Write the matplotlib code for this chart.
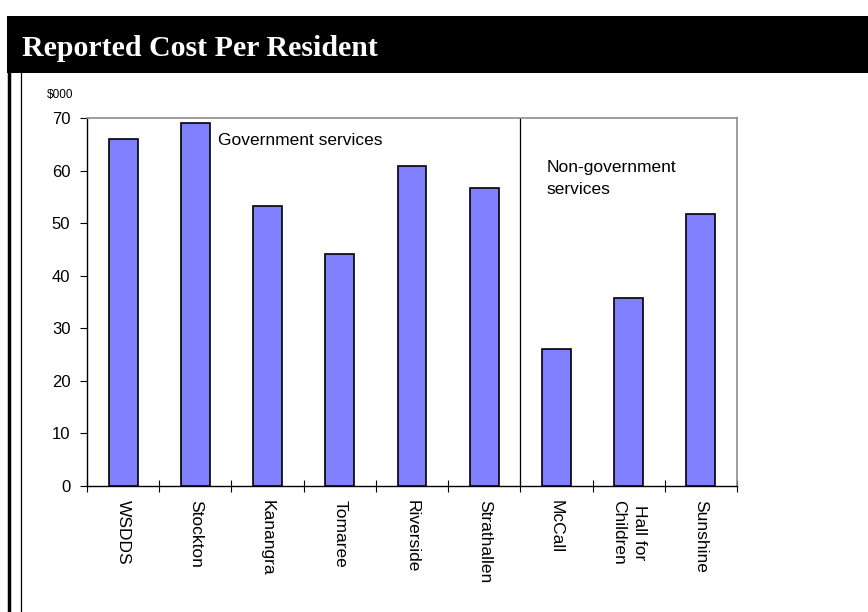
import matplotlib.pyplot as plt
import numpy as np
from matplotlib.patches import Rectangle
from matplotlib.lines import Line2D

services = ['WSDDS', 'Stockton', 'Kanangra', 'Tomaree', 'Riverside',
            'Strathallen', 'McCall', 'Hall for\nChildren', 'Sunshine']
cost = [66.0, 69.0, 53.2, 44.2, 60.8, 56.7, 26.0, 35.8, 51.8]
n_government = 6

plt.rcParams['font.family'] = ['Liberation Sans', 'DejaVu Sans']

fig = plt.figure(figsize=(8.68, 6.12), dpi=100)
W, H = 868, 612

# Black title bar and left border lines
fig.patches.append(Rectangle((7 / W, 1 - 73 / H), 1, 57 / H, transform=fig.transFigure,
                             facecolor='black', edgecolor='none'))
fig.lines.append(Line2D([8.5 / W, 8.5 / W], [0, 1 - 73 / H], transform=fig.transFigure,
                        color='black', lw=2.5))
fig.lines.append(Line2D([21 / W, 21 / W], [0, 1 - 73 / H], transform=fig.transFigure,
                        color='black', lw=0.9))
fig.text(22 / W, 1 - 56 / H, 'Reported Cost Per Resident', color='white',
         fontsize=21.5, fontweight='bold', family='Liberation Serif', va='baseline')

ax = fig.add_axes([87 / W, 1 - 486 / H, 650 / W, 368 / H])
x = np.arange(len(services))
ax.bar(x, cost, width=0.4, color='#8080FF', edgecolor='black', linewidth=1.2, zorder=3)

ax.set_xlim(-0.5, len(services) - 0.5)
ax.set_ylim(0, 70)
ax.set_yticks(np.arange(0, 71, 10))
ax.set_xticks(x)
ax.set_xticklabels(services, rotation=270, va='top', ha='center', fontsize=12.5,
                   linespacing=1.5)
ax.set_xticks(np.arange(-0.5, len(services), 1), minor=True)
ax.tick_params(axis='x', which='major', length=0, pad=10)
ax.tick_params(axis='x', which='minor', direction='inout', length=8, width=0.8)
ax.tick_params(axis='y', direction='out', length=5, width=0.8, labelsize=12, pad=7)

for side in ['top', 'right']:
    ax.spines[side].set_color('#8c8c8c')
    ax.spines[side].set_linewidth(1.2)
for side in ['left', 'bottom']:
    ax.spines[side].set_color('black')
    ax.spines[side].set_linewidth(1)

ax.axvline(n_government - 0.5, color='black', lw=0.9, zorder=2)

ax.text(1.31, 65.8, 'Government services', fontsize=12.5, va='center', ha='left')
ax.text(5.86, 62.0, 'Non-government\nservices', fontsize=12.5, va='top', ha='left',
        linespacing=1.55)

fig.text(47 / W, 1 - 95 / H, '$000', fontsize=8.5, va='center', ha='left')

fig.savefig('out.png', dpi=100)
